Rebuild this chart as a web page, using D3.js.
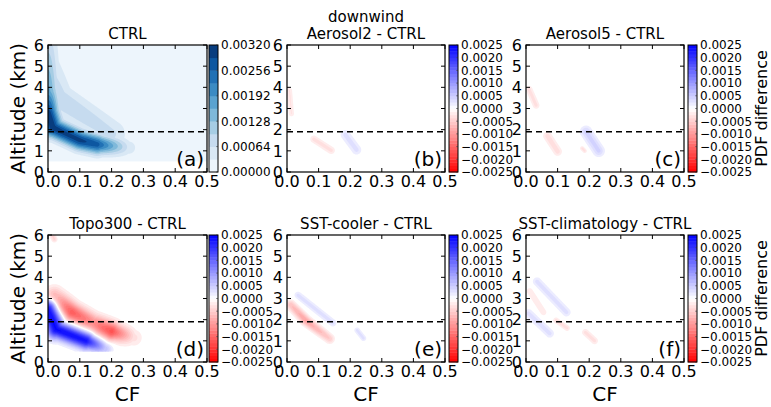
<!DOCTYPE html>
<html><head><meta charset="utf-8">
<script src="https://cdn.jsdelivr.net/npm/d3@7"></script>
<style>
body{margin:0;background:#fff}
svg{display:block}
text{font-family:"DejaVu Sans","Liberation Sans",sans-serif;fill:#000}
</style></head>
<body><svg id="c" width="771" height="407"></svg>
<script>
// ---------------- DATA ----------------
const cfTicks = [0.0, 0.1, 0.2, 0.3, 0.4, 0.5];
const altTicks = [0, 1, 2, 3, 4, 5, 6];
const cfRange = [0, 0.5];
const altRange = [0, 6];
const dataAltRange = [0.5, 6];      // PDF is defined from 0.5 km upward
const refAltitude = 1.9;            // dashed reference line (km)

const ctrlCbTicks = [0.00000, 0.00064, 0.00128, 0.00192, 0.00256, 0.00320];
const ctrlCbLabels = ["0.00000", "0.00064", "0.00128", "0.00192", "0.00256", "0.00320"];
const ctrlLevelStep = 0.00032, ctrlLevelCount = 10;
const diffCbTicks = [0.0025, 0.0020, 0.0015, 0.0010, 0.0005, 0.0000, -0.0005, -0.0010, -0.0015, -0.0020, -0.0025];
const diffCbLabels = ["0.0025", "0.0020", "0.0015", "0.0010", "0.0005", "0.0000", "\u22120.0005", "\u22120.0010", "\u22120.0015", "\u22120.0020", "\u22120.0025"];
const diffLevelStep = 0.000125, diffLevelMax = 0.0025;

const titles = [["CTRL"], ["downwind", "Aerosol2 - CTRL"], ["Aerosol5 - CTRL"],
                ["Topo300 - CTRL"], ["SST-cooler - CTRL"], ["SST-climatology - CTRL"]];
const letters = ["(a)", "(b)", "(c)", "(d)", "(e)", "(f)"];

// Density ridges:
// [CF start, altitude start (km), CF end, altitude end (km), PDF at start, PDF at end, half-width (km)]
const ctrlRidges = [
  [0.000, 6.30, 0.000, 3.80, 0.0007, 0.0017, 0.32],
  [0.000, 3.80, 0.000, 2.80, 0.0017, 0.0031, 0.34],
  [0.000, 2.80, 0.015, 2.10, 0.0031, 0.0031, 0.34],
  [0.015, 2.10, 0.050, 1.85, 0.0031, 0.0030, 0.32],
  [0.050, 1.85, 0.100, 1.50, 0.0030, 0.0030, 0.32],
  [0.100, 1.50, 0.155, 1.30, 0.0030, 0.0027, 0.32],
  [0.155, 1.30, 0.255, 1.15, 0.0027, 0.0005, 0.30],
  [0.000, 5.00, 0.030, 3.50, 0.0006, 0.0009, 0.50],
  [0.030, 3.50, 0.200, 1.80, 0.0009, 0.0007, 0.50]
];
const aerosol2Ridges = [
  [0.008, 3.85, 0.014, 2.75, -0.00026, -0.00026, 0.10],
  [0.085, 1.55, 0.140, 1.02, -0.00030, -0.00030, 0.13],
  [0.185, 1.75, 0.220, 1.05, 0.00030, 0.00030, 0.17]
];
const aerosol5Ridges = [
  [0.010, 3.90, 0.032, 3.15, -0.00030, -0.00030, 0.12],
  [0.068, 1.70, 0.100, 0.97, -0.00032, -0.00032, 0.15],
  [0.190, 1.90, 0.230, 1.00, 0.00042, 0.00042, 0.19],
  [0.178, 1.12, 0.186, 1.00, -0.00030, -0.00030, 0.08]
];
const topo300Ridges = [
  [0.000, 2.50, 0.025, 1.55, 0.0024, 0.0024, 0.30],
  [0.025, 1.55, 0.120, 1.00, 0.0024, 0.0023, 0.27],
  [0.120, 1.00, 0.180, 0.65, 0.0023, 0.0006, 0.24],
  [0.020, 3.10, 0.075, 2.35, -0.0008, -0.0016, 0.30],
  [0.075, 2.35, 0.140, 1.85, -0.0016, -0.0011, 0.30],
  [0.140, 1.85, 0.200, 1.45, -0.0011, -0.0017, 0.30],
  [0.200, 1.45, 0.270, 1.15, -0.0017, -0.0003, 0.28],
  [0.015, 5.95, 0.020, 5.80, -0.0004, -0.0004, 0.10]
];
const sstCoolerRidges = [
  [0.012, 2.70, 0.060, 1.95, -0.0006, -0.0009, 0.15],
  [0.060, 1.95, 0.135, 1.10, -0.0009, -0.0005, 0.15],
  [0.035, 3.15, 0.145, 1.85, 0.00030, 0.00030, 0.13],
  [0.222, 1.50, 0.242, 1.12, 0.00030, 0.00030, 0.10]
];
const sstClimRidges = [
  [0.035, 3.80, 0.128, 2.35, 0.00030, 0.00030, 0.15],
  [0.012, 3.35, 0.055, 2.35, -0.00025, -0.00025, 0.12],
  [0.008, 2.30, 0.075, 1.35, 0.00030, 0.00030, 0.15],
  [0.095, 1.97, 0.130, 1.60, -0.00030, -0.00030, 0.10],
  [0.188, 1.40, 0.217, 1.00, -0.00030, -0.00030, 0.12]
];
const panelRidges = [ctrlRidges, aerosol2Ridges, aerosol5Ridges, topo300Ridges, sstCoolerRidges, sstClimRidges];

// ---------------- LAYOUT ----------------
const cols = [{x0: 48, x1: 207, c0: 209, c1: 218}, {x0: 287, x1: 445, c0: 449, c1: 458}, {x0: 526, x1: 684, c0: 688, c1: 697}];
const rows = [{y0: 45, y1: 172}, {y0: 235, y1: 362}];

const svg = d3.select("#c");
const bluesStops = ["#f7fbff","#deebf7","#c6dbef","#9ecae1","#6baed6","#4292c6","#2171b5","#08519c","#08306b"];
const blues = d3.scaleLinear().domain(d3.range(9).map(i => i / 8)).range(bluesStops).interpolate(d3.interpolateRgb);
function bwrR(v) {
  const t = Math.max(-1, Math.min(1, v / diffLevelMax));
  if (t >= 0) { const c = Math.round(255 * (1 - t)); return `rgb(${c},${c},255)`; }
  const c = Math.round(255 * (1 + t)); return `rgb(255,${c},${c})`;
}
const KM_PER_CF = 15;
function ridgeValue(cf, alt, r) {
  const ax = r[0] * KM_PER_CF, ay = r[1], bx = r[2] * KM_PER_CF, by = r[3];
  const px = cf * KM_PER_CF, py = alt;
  const dx = bx - ax, dy = by - ay, L2 = dx * dx + dy * dy;
  let t = L2 > 0 ? ((px - ax) * dx + (py - ay) * dy) / L2 : 0;
  t = Math.max(0, Math.min(1, t));
  const qx = ax + t * dx, qy = ay + t * dy;
  const d = Math.hypot(px - qx, py - qy);
  const amp = r[4] + t * (r[5] - r[4]);
  return amp * Math.exp(-0.5 * (d / r[6]) * (d / r[6]));
}
function field(ridges, cf, alt) {
  let pos = 0, neg = 0;
  for (const r of ridges) {
    const v = ridgeValue(cf, alt, r);
    if (v > pos) pos = v;
    if (v < neg) neg = v;
  }
  return pos + neg;
}

const NX = 200, NY = 176;
let clipId = 0;

function drawPanel(idx) {
  const col = cols[idx % 3], row = rows[Math.floor(idx / 3)];
  const isCtrl = idx === 0;
  const xs = d3.scaleLinear().domain(cfRange).range([col.x0, col.x1]);
  const ys = d3.scaleLinear().domain(altRange).range([row.y1, row.y0]);
  const g = svg.append("g");
  const cid = "clip" + (clipId++);
  svg.append("clipPath").attr("id", cid).append("rect")
    .attr("x", col.x0).attr("y", row.y0).attr("width", col.x1 - col.x0).attr("height", row.y1 - row.y0);
  const fg = g.append("g").attr("clip-path", `url(#${cid})`);

  const ridges = panelRidges[idx];
  const vals = new Float64Array(NX * NY);
  for (let j = 0; j < NY; j++) {
    const alt = dataAltRange[0] + (j + 0.5) / NY * (dataAltRange[1] - dataAltRange[0]);
    for (let i = 0; i < NX; i++) {
      const cf = cfRange[0] + (i + 0.5) / NX * (cfRange[1] - cfRange[0]);
      vals[j * NX + i] = field(ridges, cf, alt);
    }
  }
  const proj = d3.geoTransform({point(x, y) {
    this.stream.point(xs(cfRange[0] + x / NX * (cfRange[1] - cfRange[0])),
                      ys(dataAltRange[0] + y / NY * (dataAltRange[1] - dataAltRange[0])));
  }});
  const path = d3.geoPath(proj);
  const contours = d3.contours().size([NX, NY]);

  if (isCtrl) {
    fg.append("rect").attr("x", xs(cfRange[0])).attr("y", ys(dataAltRange[1]))
      .attr("width", xs(cfRange[1]) - xs(cfRange[0])).attr("height", ys(dataAltRange[0]) - ys(dataAltRange[1]))
      .attr("fill", blues(0.5 / ctrlLevelCount));
    for (let k = 1; k < ctrlLevelCount; k++) {
      const c = contours.contour(vals, k * ctrlLevelStep);
      if (!c.coordinates.length) continue;
      fg.append("path").attr("d", path(c)).attr("fill", blues((k + 0.5) / ctrlLevelCount)).attr("fill-rule", "evenodd");
    }
  } else {
    const nLev = Math.round(diffLevelMax / diffLevelStep);
    const negVals = vals.map(v => -v);
    for (const sign of [1, -1]) {
      const src = sign > 0 ? vals : negVals;
      for (let k = 1; k < nLev; k++) {
        const c = contours.contour(src, k * diffLevelStep);
        if (!c.coordinates.length) continue;
        fg.append("path").attr("d", path(c)).attr("fill", bwrR(sign * (k + 0.5) * diffLevelStep)).attr("fill-rule", "evenodd");
      }
    }
  }

  // dashed reference line
  fg.append("line").attr("x1", xs(cfRange[0])).attr("x2", xs(cfRange[1]))
    .attr("y1", ys(refAltitude)).attr("y2", ys(refAltitude))
    .attr("stroke", "#000").attr("stroke-width", 1.6).attr("stroke-dasharray", "6,4");

  // ticks inside on all sides
  const tl = 4;
  cfTicks.forEach(t => {
    g.append("line").attr("x1", xs(t)).attr("x2", xs(t)).attr("y1", row.y1).attr("y2", row.y1 - tl).attr("stroke", "#000");
    g.append("line").attr("x1", xs(t)).attr("x2", xs(t)).attr("y1", row.y0).attr("y2", row.y0 + tl).attr("stroke", "#000");
    g.append("text").attr("x", xs(t)).attr("y", row.y1 + 15).attr("text-anchor", "middle")
      .style("font-size", "16px").text(t.toFixed(1));
  });
  altTicks.forEach(t => {
    g.append("line").attr("x1", col.x0).attr("x2", col.x0 + tl).attr("y1", ys(t)).attr("y2", ys(t)).attr("stroke", "#000");
    g.append("line").attr("x1", col.x1).attr("x2", col.x1 - tl).attr("y1", ys(t)).attr("y2", ys(t)).attr("stroke", "#000");
    g.append("text").attr("x", col.x0 - 4).attr("y", ys(t)).attr("dy", "0.36em").attr("text-anchor", "end")
      .style("font-size", "16px").text(String(t));
  });
  g.append("rect").attr("x", col.x0).attr("y", row.y0).attr("width", col.x1 - col.x0).attr("height", row.y1 - row.y0)
    .attr("fill", "none").attr("stroke", "#000").attr("stroke-width", 1.2);

  // title
  const tlines = titles[idx];
  tlines.forEach((s, i) => {
    g.append("text").attr("x", (col.x0 + col.x1) / 2).attr("y", row.y0 - 6 - (tlines.length - 1 - i) * 17)
      .attr("text-anchor", "middle").style("font-size", "15px").text(s);
  });
  // panel letter
  g.append("text").attr("x", col.x1 - 3).attr("y", row.y1 - 6).attr("text-anchor", "end")
    .style("font-size", "20px").text(letters[idx]);

  // colorbar
  const cb = g.append("g");
  if (isCtrl) {
    const cs = d3.scaleLinear().domain([0, ctrlLevelStep * ctrlLevelCount]).range([row.y1, row.y0]);
    for (let k = 0; k < ctrlLevelCount; k++) {
      cb.append("rect").attr("x", col.c0).attr("width", col.c1 - col.c0)
        .attr("y", cs((k + 1) * ctrlLevelStep)).attr("height", cs(k * ctrlLevelStep) - cs((k + 1) * ctrlLevelStep) + 0.4)
        .attr("fill", blues((k + 0.5) / ctrlLevelCount));
    }
    ctrlCbTicks.forEach((t, i) => {
      cb.append("line").attr("x1", col.c1 - 2).attr("x2", col.c1).attr("y1", cs(t)).attr("y2", cs(t)).attr("stroke", "#555").attr("stroke-width", 0.6);
      cb.append("text").attr("x", col.c1 + 3).attr("y", cs(t)).attr("dy", "0.36em").style("font-size", "12px").text(ctrlCbLabels[i]);
    });
  } else {
    const cs = d3.scaleLinear().domain([-diffLevelMax, diffLevelMax]).range([row.y1, row.y0]);
    const nBands = Math.round(2 * diffLevelMax / diffLevelStep);
    for (let k = 0; k < nBands; k++) {
      const v = -diffLevelMax + k * diffLevelStep;
      cb.append("rect").attr("x", col.c0).attr("width", col.c1 - col.c0)
        .attr("y", cs(v + diffLevelStep)).attr("height", cs(v) - cs(v + diffLevelStep) + 0.4)
        .attr("fill", bwrR(v + diffLevelStep / 2));
    }
    diffCbTicks.forEach((t, i) => {
      cb.append("line").attr("x1", col.c1 - 2).attr("x2", col.c1).attr("y1", cs(t)).attr("y2", cs(t)).attr("stroke", "#555").attr("stroke-width", 0.6);
      cb.append("text").attr("x", col.c1 + 3).attr("y", cs(t)).attr("dy", "0.36em").style("font-size", "12px").text(diffCbLabels[i]);
    });
  }
  cb.append("rect").attr("x", col.c0).attr("y", row.y0).attr("width", col.c1 - col.c0).attr("height", row.y1 - row.y0)
    .attr("fill", "none").attr("stroke", "#000").attr("stroke-width", 1);

  // axis labels
  if (idx % 3 === 0) {
    const cy = (row.y0 + row.y1) / 2;
    g.append("text").attr("transform", `translate(25,${cy}) rotate(-90)`).attr("text-anchor", "middle")
      .style("font-size", "20px").text("Altitude (km)");
  }
  if (idx >= 3) {
    g.append("text").attr("x", (col.x0 + col.x1) / 2).attr("y", 401).attr("text-anchor", "middle")
      .style("font-size", "20px").text("CF");
  }
  if (idx % 3 === 2) {
    const cy = (row.y0 + row.y1) / 2;
    g.append("text").attr("transform", `translate(767,${cy}) rotate(-90)`).attr("text-anchor", "middle")
      .style("font-size", "16px").text("PDF difference");
  }
}
for (let i = 0; i < 6; i++) drawPanel(i);
</script>
</body></html>
